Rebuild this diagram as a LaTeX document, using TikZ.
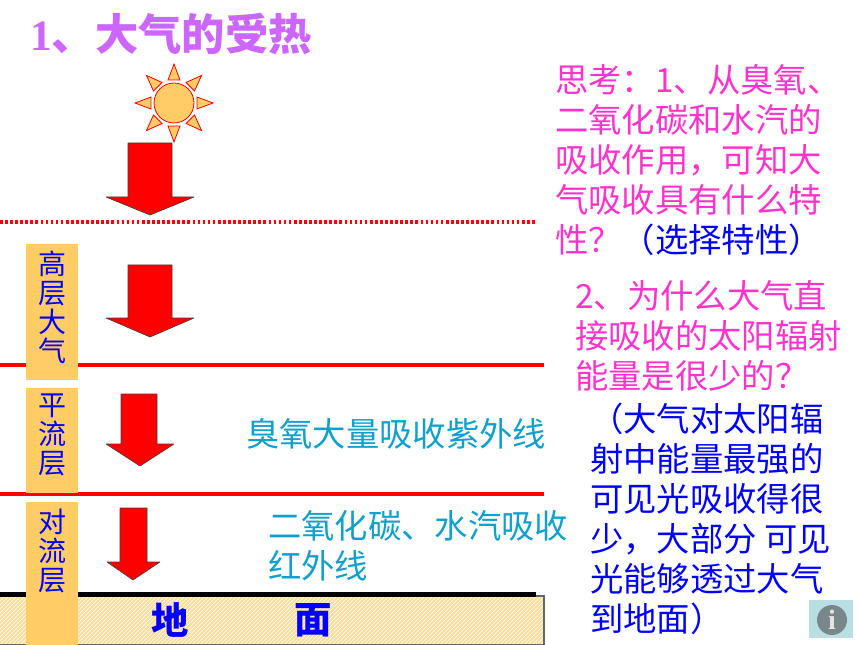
\documentclass[tikz,border=0pt]{standalone}
\usepackage{fontspec}
\setmainfont{Noto Sans CJK SC}
\newfontfamily\latinserif{Liberation Serif}
\usetikzlibrary{patterns}
\definecolor{bandgold}{HTML}{FFCC66}
\definecolor{titlepurple}{HTML}{CC66FF}
\definecolor{thinkpink}{HTML}{FF33CC}
\definecolor{layercyan}{HTML}{0FA0CC}
\definecolor{infoblue}{HTML}{B9DFE3}
\definecolor{infogray}{HTML}{78888A}
\begin{document}
\begin{tikzpicture}[x=0.75pt,y=-0.75pt,
  band/.style={fill=bandgold,draw=none},
  downarrow/.style={fill=red,draw=black!75,line width=0.5pt,line join=bevel},
  bandlabel/.style={inner sep=0,text=blue,font=\fontsize{21pt}{21.75pt}\selectfont,align=center},
  para/.style={inner sep=0,anchor=north west,align=left,font=\fontsize{25pt}{30pt}\selectfont},
  layernote/.style={para,text=layercyan},
  sunpart/.style={fill=bandgold,draw=red,line width=0.6pt}]
  \useasboundingbox (0,0) rectangle (860,645);

  % ground
  \fill[fill=bandgold!65] (0,596) rectangle (544,645);
  \fill[pattern=north east lines,pattern color=white] (0,596) rectangle (544,645);
  \draw[black!60,line width=0.8pt] (0,596) -- (544,596) -- (544,645) -- (0,645);
  \draw[black,line width=4pt] (0,594.5) -- (536,594.5);

  % layer borders
  \draw[red,line width=2.6pt,dash pattern=on 2pt off 1.8pt] (0,222) -- (537,222);
  \draw[red,line width=2.6pt] (0,365) -- (544,365);
  \draw[red,line width=2.6pt] (0,494) -- (544,494);

  % bands
  \fill[band] (26,244) rectangle (78,380);
  \fill[band] (26,388) rectangle (78,493);
  \fill[band] (26,502) rectangle (78,645);
  \node[bandlabel] (high) at (52,307) {高\\层\\大\\气};
  \node[bandlabel] (strato) at (52,435) {平\\流\\层};
  \node[bandlabel] (tropo) at (52,551) {对\\流\\层};

  % sun
  \draw[sunpart] (174,103) circle (20);
  \foreach \ang in {0,45,...,315}
    \draw[sunpart,rotate around={\ang:(174,103)}]
      (168,80) -- (174,64) -- (180,80) -- cycle;

  % arrows
  \draw[downarrow] (128,143) -- (172,143) -- (172,197) -- (194,197) -- (150,215) -- (106,197) -- (128,197) -- cycle;
  \draw[downarrow] (128,265) -- (172,265) -- (172,318) -- (194,318) -- (150,337) -- (106,318) -- (128,318) -- cycle;
  \draw[downarrow] (121,394) -- (157,394) -- (157,444) -- (174,444) -- (140,466) -- (106,444) -- (121,444) -- cycle;
  \draw[downarrow] (120,508) -- (147,508) -- (147,562) -- (160,562) -- (133,580) -- (107,562) -- (120,562) -- cycle;

  % texts
  \node[inner sep=0,anchor=west,text=titlepurple,font=\fontsize{32.5pt}{32.5pt}\selectfont\bfseries] (title) at (30,34)
    {{\latinserif 1}、大气的受热};
  \node[para,text=thinkpink] (think1) at (555,64)
    {思考：1、从臭氧、\\二氧化碳和水汽的\\吸收作用，可知大\\气吸收具有什么特\\性？\textcolor{blue}{（选择特性）}};
  \node[para,text=thinkpink] (think2) at (575,280)
    {2、为什么大气直\\接吸收的太阳辐射\\能量是很少的？};
  \node[para,text=blue] (answer) at (590,403)
    {（大气对太阳辐\\射中能量最强的\\可见光吸收得很\\少，大部分 可见\\光能够透过大气\\到地面）};
  \node[layernote] (ozone) at (246,418) {臭氧大量吸收紫外线};
  \node[layernote] (carbon) at (268,510) {二氧化碳、水汽吸收\\红外线};
  \node[inner sep=0,text=blue,font=\fontsize{28pt}{28pt}\selectfont\bfseries] (groundl) at (170,620) {地};
  \node[inner sep=0,text=blue,font=\fontsize{28pt}{28pt}\selectfont\bfseries] (groundr) at (313,620) {面};

  % info button
  \fill[infoblue] (809,600) rectangle (853,638);
  \fill[infogray] (832,620) circle (15);
  \node[inner sep=0,text=white!90!black,font=\latinserif\fontsize{21pt}{21pt}\selectfont\bfseries] (info) at (832,620) {i};
\end{tikzpicture}
\end{document}
